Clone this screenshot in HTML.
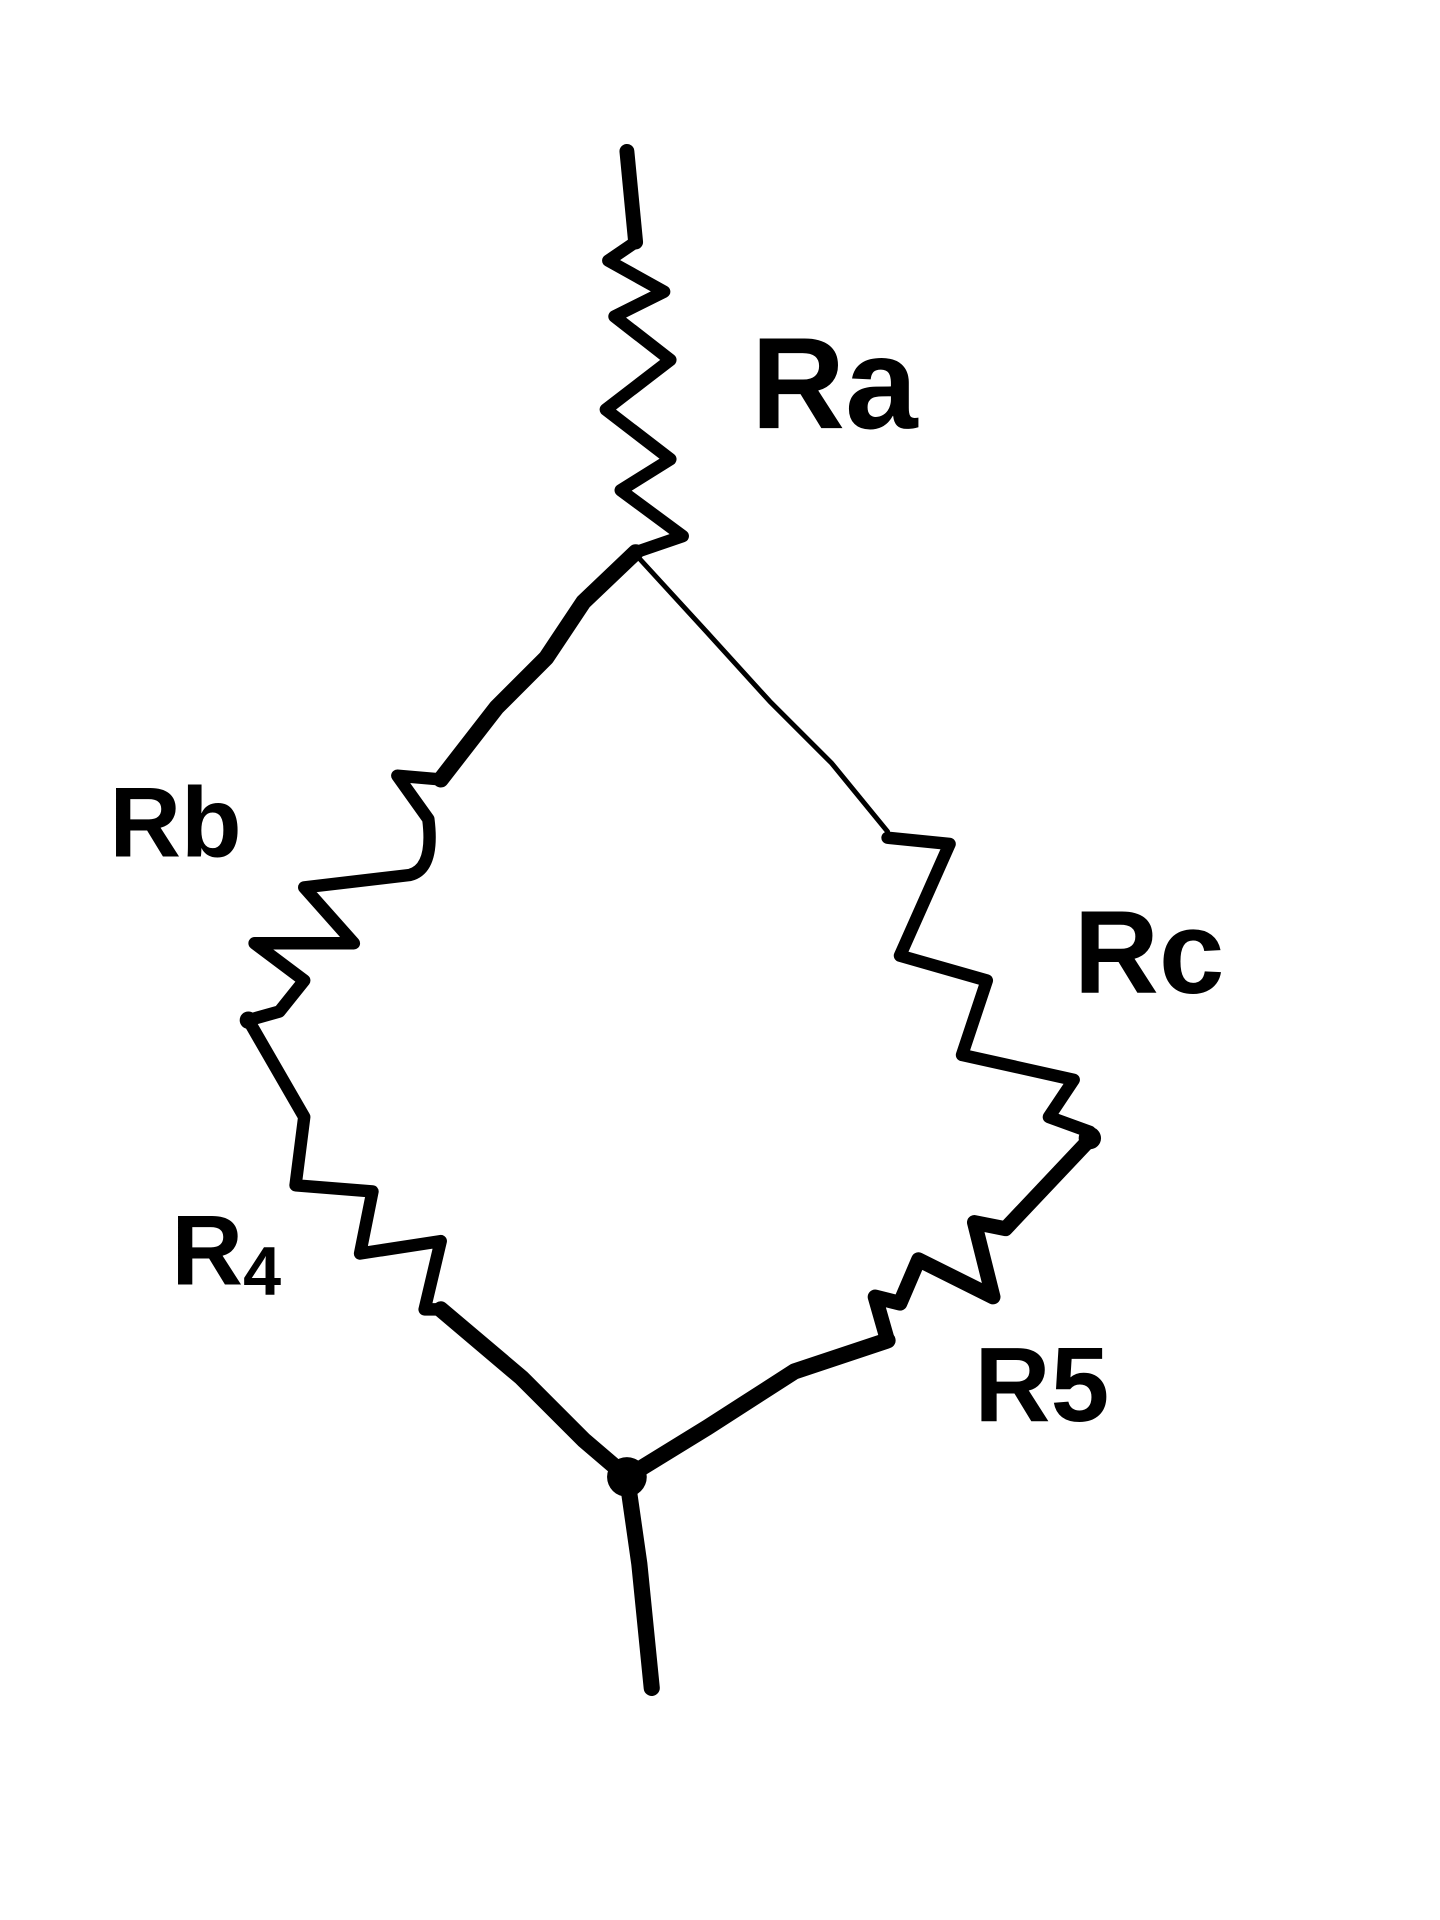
<!DOCTYPE html>
<html><head><meta charset="utf-8"><style>
html,body{margin:0;padding:0;background:#fff;}
svg{display:block;}
text{font-family:"Liberation Sans",sans-serif;font-weight:bold;fill:#000;}
</style></head><body>
<svg width="1440" height="1920" viewBox="0 0 1160 1547" xmlns="http://www.w3.org/2000/svg">
<g fill="none" stroke="#000" stroke-linecap="round" stroke-linejoin="round">
<path stroke-width="12" d="M505 122 L512 195"/>
<path stroke-width="10" d="M512 195 L490 210 L535 235 L495 255 L540 290 L488 330 L540 370 L500 395 L550 432 L512 445"/>
<path stroke-width="13" d="M512 445 L470 485 L440 530 L400 570 L355 628"/>
<path stroke-width="10" d="M355 628 L320 625 L345 660 Q350 700 330 705 L245 715 L285 760 L205 760 L245 790 L225 815 L200 822"/>
<path stroke-width="10" d="M200 822 L245 900 L238 955 L300 960 L290 1010 L355 1000 L342 1055 L355 1055"/>
<path stroke-width="13" d="M355 1055 L420 1110 L470 1160 L505 1190"/>
<path stroke-width="4" d="M515 450 L570 510 L620 565 L670 615 L715 670"/>
<path stroke-width="10" d="M715 675 L765 680 L725 770 L795 790 L775 850 L865 870 L845 900 L878 912"/>
<path stroke-width="12" d="M878 918 L810 990 L785 985 L800 1045 L740 1015 L725 1050 L705 1045 L715 1080"/>
<path stroke-width="13" d="M715 1080 L640 1105 L570 1150 L505 1190"/>
<path stroke-width="13" d="M505 1190 L515 1260 L525 1360"/>
</g>
<circle cx="505" cy="1190" r="16" fill="#000"/>
<circle cx="878" cy="917" r="9" fill="#000"/>
<circle cx="200" cy="822" r="7" fill="#000"/>
<text x="605" y="345" font-size="105">Ra</text>
<text x="88" y="690" font-size="80">Rb</text>
<text x="865" y="800" font-size="95">Rc</text>
<text x="138" y="1035" font-size="80">R<tspan font-size="55" dy="8">4</tspan></text>
<text x="785" y="1145" font-size="85">R5</text>
</svg>
</body></html>
